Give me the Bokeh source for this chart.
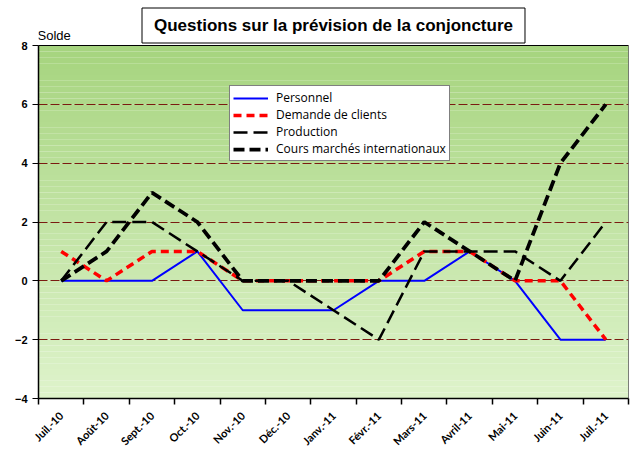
import numpy as np
from bokeh.plotting import figure
from bokeh.models import Range1d, FixedTicker, Legend, LegendItem, Label
from bokeh.embed import file_html
from bokeh.resources import INLINE

months = ["Juil.-10", "Août-10", "Sept.-10", "Oct.-10", "Nov.-10", "Déc.-10",
          "Janv.-11", "Févr.-11", "Mars-11", "Avril-11", "Mai-11", "Juin-11", "Juil.-11"]
personnel = [0, 0, 0, 1, -1, -1, -1, 0, 0, 1, 0, -2, -2]
demande = [1, 0, 1, 1, 0, 0, 0, 0, 1, 1, 0, 0, -2]
production = [0, 2, 2, 1, 0, 0, -1, -2, 1, 1, 1, 0, 2]
cours = [0, 1, 3, 2, 0, 0, 0, 0, 2, 1, 0, 4, 6]
y_ticks = [-4, -2, 0, 2, 4, 6, 8]
title_text = "Questions sur la prévision de la conjoncture"
y_title = "Solde"

x = list(range(len(months)))
ymin, ymax = y_ticks[0], y_ticks[-1]
xl, xr = -0.5, len(months) - 0.5

# plot area (ymin..ymax) is 353 px tall; the frame extends 39 px higher to hold the title
px_per_unit = 353 / (ymax - ymin)
y_top = ymax + 39 / px_per_unit

p = figure(frame_width=590, frame_height=392, output_backend="svg", toolbar_location=None,
           x_range=Range1d(xl, xr), y_range=Range1d(ymin, y_top),
           min_border_left=38, min_border_right=2, min_border_top=6, min_border_bottom=46)
p.outline_line_color = None
p.border_fill_color = "white"
p.background_fill_color = "white"

# vertical gradient background
n = 60
edges = np.linspace(ymin, ymax, n + 1)
top_c = np.array([166, 212, 126])
bot_c = np.array([222, 243, 203])
cols = []
for i in range(n):
    t = (i + 0.5) / n
    c = bot_c + (top_c - bot_c) * t
    cols.append("#%02x%02x%02x" % tuple(int(round(v)) for v in c))
bg = p.quad(left=xl, right=xr, bottom=edges[:-1], top=edges[1:],
            fill_color=cols, line_color=None)
bg.level = "image"

# grid
p.xgrid.visible = False
p.ygrid.ticker = FixedTicker(ticks=y_ticks)
p.ygrid.grid_line_color = "#7a1a10"
p.ygrid.grid_line_width = 1
p.ygrid.grid_line_dash = "9 3"

# plot-area border
p.quad(left=xl, right=xr, bottom=ymin, top=ymax, fill_color=None,
       line_color="black", line_width=1)

# axes
p.yaxis.ticker = FixedTicker(ticks=y_ticks)
p.yaxis.bounds = (ymin, ymax)
p.yaxis.major_label_text_font = "Liberation Sans"
p.yaxis.major_label_text_font_style = "bold"
p.yaxis.major_label_text_font_size = "11px"
p.yaxis.major_label_text_color = "black"
p.yaxis.major_tick_out = 6
p.yaxis.major_tick_in = 0
p.yaxis.minor_tick_out = 0
p.yaxis.minor_tick_in = 0
p.yaxis.axis_line_width = 1.5
p.yaxis.major_label_standoff = 5

p.xaxis.ticker = FixedTicker(ticks=x, minor_ticks=[i - 0.5 for i in range(len(months) + 1)])
p.xaxis.major_label_overrides = {i: m for i, m in enumerate(months)}
p.xaxis.major_label_orientation = np.pi / 4
p.xaxis.major_label_text_font = "Lato"
p.xaxis.major_label_text_font_style = "bold"
p.xaxis.major_label_text_font_size = "11px"
p.xaxis.major_label_text_color = "black"
p.xaxis.major_tick_out = 0
p.xaxis.major_tick_in = 0
p.xaxis.minor_tick_out = 6
p.xaxis.minor_tick_in = 0
p.xaxis.minor_tick_line_color = "black"
p.xaxis.minor_tick_line_width = 1.5
p.xaxis.axis_line_width = 1.5
p.xaxis.major_label_standoff = 9

# series
r1 = p.line(x, personnel, line_color="#0000ff", line_width=2)
r2 = p.line(x, demande, line_color="#ff0000", line_width=3.5, line_dash="8 5")
r3 = p.line(x, production, line_color="black", line_width=2.5, line_dash="14 6")
r4 = p.line(x, cours, line_color="black", line_width=3.75, line_dash="11 5")

legend = Legend(items=[LegendItem(label="Personnel", renderers=[r1]),
                       LegendItem(label="Demande de clients", renderers=[r2]),
                       LegendItem(label="Production", renderers=[r3]),
                       LegendItem(label="Cours marchés internationaux", renderers=[r4])],
                location=(191, 237), orientation="vertical",
                glyph_width=35, glyph_height=16, label_height=16, spacing=0,
                padding=3, margin=0, label_standoff=8,
                label_text_font="Open Sans", label_text_font_size="12px",
                label_text_color="black",
                background_fill_color="white", background_fill_alpha=1,
                border_line_color="black", border_line_width=1)
p.add_layout(legend, "center")

title = Label(x=(xl + xr) / 2, y=ymax, y_offset=20, text=title_text,
              text_align="center", text_baseline="middle",
              text_font="Liberation Sans", text_font_style="bold", text_font_size="17px",
              text_color="black", background_fill_color="white",
              border_line_color="black", border_line_width=1, padding=(12, 8))
p.add_layout(title)

solde = Label(x=xl, y=ymax, y_offset=3, x_offset=-1, text=y_title,
              text_align="left", text_baseline="bottom",
              text_font="Liberation Sans", text_font_size="13px", text_color="black")
p.add_layout(solde)

open("out.html", "w").write(file_html(p, INLINE))
